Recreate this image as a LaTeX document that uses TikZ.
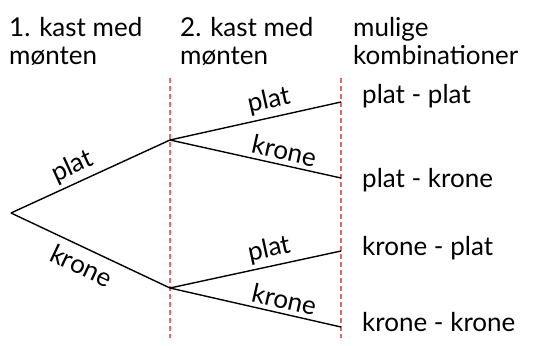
\documentclass[tikz,border=0pt]{standalone}
\usepackage{fontspec}
\setmainfont{Lato}
\begin{document}
\begin{tikzpicture}[x=1pt,y=-1pt,
  branch/.style={line width=1.4pt,black},
  guide/.style={line width=1.7pt,color=guidered,dash pattern=on 4.5pt off 3.5pt},
  edgelbl/.style={sloped,font=\fontsize{26}{30}\selectfont,inner sep=4pt},
  head/.style={anchor=north west,align=left,inner sep=0pt,font=\fontsize{26}{28}\selectfont},
  combo/.style={anchor=base west,inner sep=0pt,font=\fontsize{26}{30}\selectfont}]
\definecolor{guidered}{RGB}{238,102,108}
\useasboundingbox (0,0) rectangle (537,345);
% column guides
\coordinate (g1t) at (170,78); \coordinate (g1b) at (170,338);
\coordinate (g2t) at (341,78); \coordinate (g2b) at (341,338);
\draw[guide] (g1t) -- (g1b);
\draw[guide] (g2t) -- (g2b);
% column headings
\node[head] (h1) at (9,17) {1. kast med\\mønten};
\node[head] (h2) at (180,17) {2. kast med\\mønten};
\node[head] (h3) at (353,17) {mulige\\kombinationer};
% tree nodes
\coordinate (r) at (11,213);
\coordinate (p) at (170,140);
\coordinate (k) at (170,288);
\coordinate (pp) at (341,102);
\coordinate (pk) at (341,178);
\coordinate (kp) at (341,251);
\coordinate (kk) at (341,327);
\draw[branch] (r) -- node[edgelbl,above,pos=0.43] {plat} (p);
\draw[branch] (r) -- node[edgelbl,below,pos=0.49,inner sep=7pt] {krone} (k);
\draw[branch] (p) -- node[edgelbl,above,pos=0.6] {plat} (pp);
\draw[branch] (p) -- node[edgelbl,above,pos=0.65] {krone} (pk);
\draw[branch] (k) -- node[edgelbl,above,pos=0.6] {plat} (kp);
\draw[branch] (k) -- node[edgelbl,above,pos=0.65] {krone} (kk);
% outcomes
\node[combo] (c1) at (362,103) {plat - plat};
\node[combo] (c2) at (362,187) {plat - krone};
\node[combo] (c3) at (362,255) {krone - plat};
\node[combo] (c4) at (362,331) {krone - krone};
\end{tikzpicture}
\end{document}
